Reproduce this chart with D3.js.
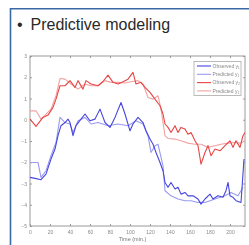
<!DOCTYPE html>
<html><head><meta charset="utf-8">
<script src="https://cdn.jsdelivr.net/npm/d3@7"></script>
<style>html,body{margin:0;padding:0;background:#fff;}svg{display:block;}</style>
</head><body><svg id="c" width="249" height="245"></svg>
<script>
const title = "Predictive modeling";
const xLabel = "Time (min.)";
const xTicks = [0,20,40,60,80,100,120,140,160,180,200];
const yTicks = [3,2,1,0,-1,-2,-3,-4,-5];
const legendLabels = ["Observed y\u2081","Predicted y\u2081","Observed y\u2082","Predicted y\u2082"];

const obsY1T = [0,5,11,16,21,25,28,31,35,38,40,43,46,51,55,60,65,70,75,80,85,91,95,100,103,108,113,116,120,123,126,130,133,135,138,141,145,148,151,155,158,163,168,171,175,180,183,188,193,196,198,200,203,206,211,214];
const obsY1V = [-2.71,-2.76,-2.82,-2.56,-1.85,-1.38,-0.75,-0.28,-0.13,0.03,-0.13,-0.75,-0.28,0.03,0.27,-0.05,0.03,0.5,-0.13,-0.36,0.11,0.81,0.27,-0.52,-0.2,0.11,-0.13,-0.52,-0.91,-1.15,-1.54,-2.01,-2.4,-2.95,-3.18,-2.95,-3.26,-3.18,-3.5,-3.42,-3.58,-3.58,-3.73,-3.97,-3.73,-3.5,-3.73,-3.58,-3.65,-3.34,-2.95,-3.58,-3.65,-3.81,-3.89,-1.85];

const predY1T = [0,8,11,16,21,26,30,35,40,43,48,55,61,68,78,88,98,106,113,118,121,125,128,133,135,141,148,155,161,168,175,185,195,201,208,213];
const predY1V = [-2.01,-2.01,-2.71,-2.4,-1.69,-1.07,0.11,-0.13,-0.2,-0.6,-0.05,0.11,-0.2,-0.13,-0.28,-0.2,-0.28,-0.05,-0.2,-0.75,-1.54,-1.22,-1.15,-2.17,-3.34,-3.58,-3.73,-3.81,-3.81,-3.89,-3.89,-3.73,-3.58,-3.42,-3.58,-3.18];

const obsY2T = [0,6,13,18,23,26,30,35,40,45,48,53,56,61,68,73,78,83,88,93,98,103,106,111,115,120,125,130,133,135,138,141,145,148,151,155,158,161,165,168,171,175,178,181,185,190,195,200,203,206,210,213,215];
const obsY2V = [0.03,-0.31,0.11,0.22,0.58,0.97,1.6,1.6,1.84,1.52,1.84,1.44,1.84,1.68,1.6,1.8,2.1,1.76,1.68,1.79,1.91,2.23,1.68,1.76,1.52,1.29,0.97,0.66,0.27,-0.2,-0.36,-0.6,-0.28,-0.6,-0.36,-0.44,-0.68,-0.6,-0.99,-1.22,-2.09,-1.54,-1.22,-1.69,-1.38,-1.46,-1.22,-0.99,-1.3,-0.99,-1.3,-0.75,-0.6];

const predY2T = [0,6,11,16,21,26,30,35,41,48,55,61,68,75,81,88,95,101,108,113,118,123,128,131,135,138,145,151,158,165,171,178,185,191,198,205,211,215];
const predY2V = [0.42,0.42,0.03,0.27,0.5,1.13,1.94,1.91,1.68,1.44,1.68,1.6,1.6,1.84,1.76,1.76,1.73,1.79,1.84,1.68,1.05,0.97,1.13,0.5,-0.75,-0.88,-0.91,-0.99,-1.1,-1.15,-1.15,-1.3,-1.22,-1.15,-1.1,-1.07,-1.1,-0.99];

const colors = ["#4646e0","#9a9af0","#e84444","#f2a2a2"];
const series = [
  {t:obsY1T, v:obsY1V},
  {t:predY1T, v:predY1V},
  {t:obsY2T, v:obsY2V},
  {t:predY2T, v:predY2V}
];

const svg = d3.select("#c");
const defs = svg.append("defs");
defs.append("filter").attr("id","blur").attr("x","-5%").attr("y","-5%").attr("width","110%").attr("height","110%")
  .append("feGaussianBlur").attr("stdDeviation",0.35);

// slide frame
svg.append("path").attr("d","M10.5,245 V8.8 H249").attr("fill","none").attr("stroke","#3a6aa6").attr("stroke-width",1.6);
svg.append("text").attr("x",17).attr("y",30).attr("font-family","Liberation Sans, Arial, sans-serif").attr("font-size",16).attr("fill","#2a2a2a").text("•");
svg.append("text").attr("x",30.5).attr("y",30).attr("font-family","Liberation Sans, Arial, sans-serif").attr("font-size",16).attr("fill","#2a2a2a").text(title);

const L=30, R=245, T=56, B=226;
const x = d3.scaleLinear().domain([0,215]).range([L,R]);
const y = d3.scaleLinear().domain([-5,3]).range([B,T]);

const g = svg.append("g").attr("filter","url(#blur)");
g.append("rect").attr("x",L).attr("y",T).attr("width",R-L).attr("height",B-T).attr("fill","none").attr("stroke","#9a9a9a").attr("stroke-width",1);

const xa = g.append("g").attr("transform",`translate(0,${B})`).call(d3.axisBottom(x).tickValues(xTicks).tickSize(-2).tickPadding(4));
const xa2 = g.append("g").attr("transform",`translate(0,${T})`).call(d3.axisTop(x).tickValues(xTicks).tickSize(-2).tickFormat(""));
const ya = g.append("g").attr("transform",`translate(${L},0)`).call(d3.axisLeft(y).tickValues(yTicks).tickSize(-2).tickPadding(3));
const ya2 = g.append("g").attr("transform",`translate(${R},0)`).call(d3.axisRight(y).tickValues(yTicks).tickSize(-2).tickFormat(""));
[xa,xa2,ya,ya2].forEach(a=>{
  a.select(".domain").remove();
  a.selectAll("line").attr("stroke","#9a9a9a");
  a.selectAll("text").attr("fill","#888").attr("font-size",5).attr("font-family","Liberation Sans, Arial, sans-serif");
});

const line = d3.line().x(d=>x(d[0])).y(d=>y(d[1]));
[3,1,2,0].forEach(i=>{
  const s = series[i];
  const pts = s.t.map((t,k)=>[t,s.v[k]]);
  g.append("path").datum(pts).attr("d",line).attr("fill","none").attr("stroke",colors[i]).attr("stroke-width",1.1).attr("stroke-linejoin","round");
});

g.append("text").attr("x",(L+R)/2 - 5).attr("y",241).attr("text-anchor","middle").attr("font-size",5.5).attr("fill","#777").attr("font-family","Liberation Sans, Arial, sans-serif").text(xLabel);

// legend
const lg = g.append("g");
lg.append("rect").attr("x",194).attr("y",61.5).attr("width",47).attr("height",34).attr("fill","#fff").attr("stroke","#aaa").attr("stroke-width",0.8);
legendLabels.forEach((lab,i)=>{
  const yy = 66 + i*8.3;
  lg.append("line").attr("x1",197).attr("x2",211).attr("y1",yy).attr("y2",yy).attr("stroke",colors[i]).attr("stroke-width",1.1);
  lg.append("text").attr("x",212.5).attr("y",yy+1.8).attr("font-size",5).attr("fill","#888").attr("font-family","Liberation Sans, Arial, sans-serif").text(lab);
});
</script></body></html>
